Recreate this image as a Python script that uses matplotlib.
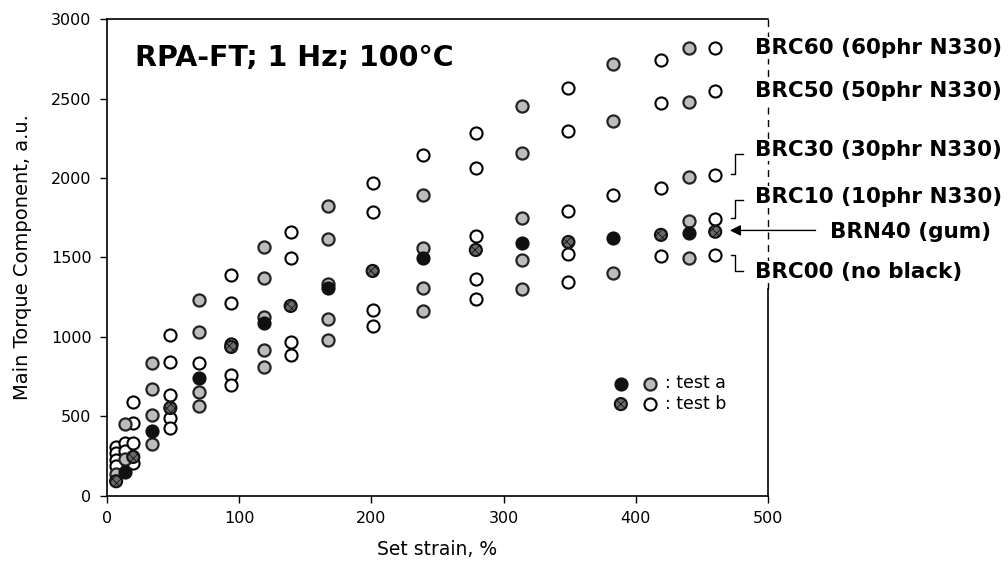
import matplotlib
matplotlib.use('Agg')
import matplotlib.pyplot as plt
from matplotlib.legend_handler import HandlerTuple

plt.rcParams['hatch.linewidth'] = 0.6

# BRN40 (gum), test a (black) and test b (dark hatched)
gum_a_x = [14, 34, 70, 119, 167, 239, 314, 383, 440]
gum_a_y = [150, 405, 742, 1088, 1305, 1497, 1591, 1623, 1655]
gum_b_x = [7, 20, 48, 94, 139, 201, 279, 349, 419, 460]
gum_b_y = [92, 245, 553, 937, 1195, 1415, 1547, 1597, 1642, 1662]

# BRC compounds, test a (gray)
brc_a_x = [7, 14, 14, 34, 34, 34, 34, 70, 70, 70, 70,
           119, 119, 119, 119, 119, 167, 167, 167, 167, 167,
           239, 239, 239, 239, 314, 314, 314, 314, 314,
           383, 383, 383, 440, 440, 440, 440, 440]
brc_a_y = [140, 453, 230, 836, 673, 509, 327, 1233, 1031, 654, 566,
           1566, 1371, 1126, 918, 811, 1824, 1616, 1330, 1113, 981,
           1893, 1560, 1308, 1164, 2453, 2157, 1748, 1484, 1302,
           2717, 2358, 1403, 2818, 2478, 2006, 1730, 1497]

# BRC compounds, test b (open)
brc_b_x = [7, 7, 7, 7, 14, 14, 20, 20, 20, 20,
           48, 48, 48, 48, 48, 70, 94, 94, 94, 94, 94,
           139, 139, 139, 139, 201, 201, 201, 201, 239,
           279, 279, 279, 279, 279, 349, 349, 349, 349, 349, 383,
           419, 419, 419, 419, 460, 460, 460, 460, 460]
brc_b_y = [308, 270, 225, 185, 333, 280, 591, 459, 333, 205,
           1012, 843, 635, 491, 428, 836, 1390, 1214, 955, 761, 695,
           1660, 1497, 969, 887, 1968, 1786, 1170, 1069, 2145,
           2283, 2063, 1635, 1365, 1239, 2566, 2296, 1792, 1522, 1346, 1893,
           2742, 2472, 1937, 1509, 2818, 2547, 2019, 1742, 1516]

compound_labels = ["BRC60 (60phr N330)", "BRC50 (50phr N330)", "BRC30 (30phr N330)",
                   "BRC10 (10phr N330)", "BRN40 (gum)", "BRC00 (no black)"]
label_y = [2818, 2547, 2176, 1880, 1660, 1409]

fig = plt.figure(figsize=(10.08, 5.68), dpi=100)
ax = fig.add_axes([0.106, 0.127, 0.656, 0.8395])

ms = 76
open_pts = ax.scatter(brc_b_x, brc_b_y, s=ms, facecolors='white', edgecolors='black', linewidths=1.5, zorder=3)
gray_pts = ax.scatter(brc_a_x, brc_a_y, s=ms, facecolors='#bcbcbc', edgecolors='#222222', linewidths=1.6, zorder=4)
hatch_pts = ax.scatter(gum_b_x, gum_b_y, s=ms, facecolors='#6a6a6a', edgecolors='#111111', linewidths=1.5,
                       hatch='xxxx', zorder=5)
black_pts = ax.scatter(gum_a_x, gum_a_y, s=ms, facecolors='#111111', edgecolors='#111111', linewidths=1.5, zorder=6)

ax.set_xlim(0, 500)
ax.set_ylim(0, 3000)
ax.set_xticks(range(0, 501, 100))
ax.set_yticks(range(0, 3001, 500))
ax.tick_params(direction='out', length=5, width=1, labelsize=11.5, pad=6)
for s in ['left', 'bottom', 'top']:
    ax.spines[s].set_linewidth(1.2)
ax.spines['right'].set_visible(False)
# right edge: solid at the bottom, broken up where the labels are
ax.axvline(500, ymin=0, ymax=1300 / 3000, color='black', lw=1.2, clip_on=False)
ax.axvline(500, ymin=1300 / 3000, ymax=1, color='black', lw=1, ls=(0, (5, 4)), clip_on=False)

ax.set_xlabel("Set strain, %", fontsize=13.5, labelpad=10)
ax.set_ylabel("Main Torque Component, a.u.", fontsize=14, labelpad=14)

ax.text(0.042, 0.918, "RPA-FT; 1 Hz; 100°C", transform=ax.transAxes, fontsize=20.5,
        fontweight='bold', va='center', ha='left')

# compound labels on the right
for lab, y in zip(compound_labels, label_y):
    x0 = 547 if lab.startswith("BRN40") else 490
    ax.text(x0, y, lab, fontsize=15.5, fontweight='bold', va='center', ha='left',
            clip_on=False, bbox=dict(facecolor='white', edgecolor='none', pad=0.5), zorder=7)

# leader brackets
bk = dict(color='black', lw=1, clip_on=False)
ax.plot([472, 475, 475, 481], [2025, 2025, 2151, 2151], **bk)
ax.plot([472, 475, 475, 481], [1748, 1748, 1862, 1862], **bk)
ax.plot([472, 475, 475, 481], [1516, 1516, 1412, 1412], **bk)
ax.annotate('', xy=(469, 1670), xytext=(538, 1670),
            arrowprops=dict(arrowstyle='-|>', color='black', lw=1, mutation_scale=16),
            annotation_clip=False)

ax.legend([(black_pts, gray_pts), (hatch_pts, open_pts)], [": test a", ": test b"],
          handler_map={tuple: HandlerTuple(ndivide=None, pad=0.9)},
          loc='upper left', bbox_to_anchor=(0.757, 0.27), frameon=False, fontsize=12.5,
          handlelength=2.4, handletextpad=0.5, labelspacing=0.15, borderaxespad=0)

plt.savefig("out.png", dpi=100)
